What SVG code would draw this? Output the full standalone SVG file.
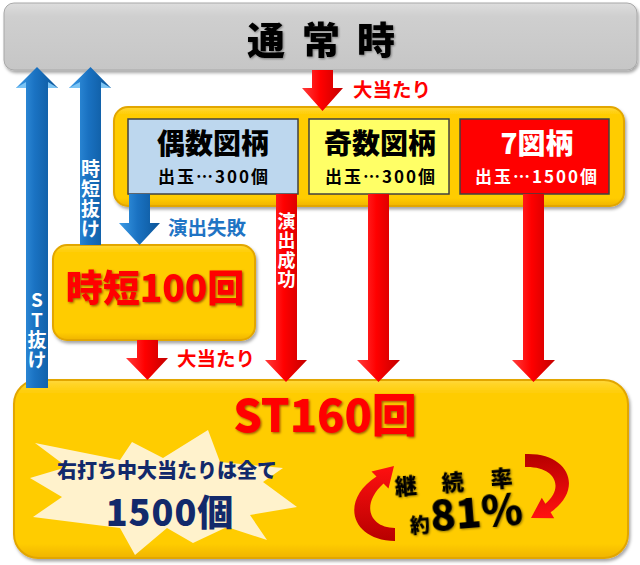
<svg xmlns="http://www.w3.org/2000/svg" width="640" height="565" viewBox="0 0 640 565">
<defs>
<style>
.t{font-family:"Noto Sans CJK JP","Noto Sans",sans-serif;font-weight:900}
.lbl{font-family:"Noto Sans CJK JP","Noto Sans",sans-serif;font-weight:700}
.vw{fill:#FFFFFF;writing-mode:vertical-rl;text-orientation:upright}
.red{fill:#FF0000}
.blu{fill:#1F74C4}
.navy{fill:#12296B}
.box{stroke:#404040;stroke-width:1.5}
.gold{fill:url(#gGold);stroke:#E2A600;stroke-width:2}
</style>
<linearGradient id="gRed" x1="0" y1="0" x2="1" y2="0">
<stop offset="0" stop-color="#FF3a3a"/><stop offset="0.45" stop-color="#FF0000"/><stop offset="1" stop-color="#C40000"/>
</linearGradient>
<linearGradient id="gBlue" x1="0" y1="0" x2="1" y2="0">
<stop offset="0" stop-color="#3C9BE6"/><stop offset="0.45" stop-color="#1A72C2"/><stop offset="1" stop-color="#0B5598"/>
</linearGradient>
<linearGradient id="gGray" x1="0" y1="0" x2="0" y2="1">
<stop offset="0" stop-color="#DDDDDD"/><stop offset="0.2" stop-color="#CFCFCF"/><stop offset="1" stop-color="#C6C6C6"/>
</linearGradient>
<linearGradient id="gGold" x1="0" y1="0" x2="0" y2="1">
<stop offset="0" stop-color="#FFD83A"/><stop offset="0.08" stop-color="#FFCC00"/><stop offset="0.92" stop-color="#FFCC00"/><stop offset="1" stop-color="#F0B400"/>
</linearGradient>
<linearGradient id="gArcL" gradientUnits="userSpaceOnUse" x1="395" y1="540" x2="394" y2="466">
<stop offset="0" stop-color="#B80000"/><stop offset="1" stop-color="#FF1010"/>
</linearGradient>
<linearGradient id="gArcR" gradientUnits="userSpaceOnUse" x1="525" y1="458" x2="531" y2="518">
<stop offset="0" stop-color="#B80000"/><stop offset="1" stop-color="#FF1010"/>
</linearGradient>
<filter id="sh" x="-10%" y="-10%" width="120%" height="130%">
<feDropShadow dx="1.5" dy="2.5" stdDeviation="1.8" flood-color="#000" flood-opacity="0.35"/>
</filter>
<filter id="tsh" x="-10%" y="-20%" width="120%" height="140%">
<feDropShadow dx="1.2" dy="1.2" stdDeviation="0.8" flood-color="#5a0000" flood-opacity="0.6"/>
</filter>
<filter id="ksh" x="-10%" y="-20%" width="120%" height="140%">
<feDropShadow dx="1" dy="1" stdDeviation="1" flood-color="#000" flood-opacity="0.4"/>
</filter>
</defs>

<g id="node-normal">
<rect x="4" y="3" width="633" height="67" rx="10" fill="url(#gGray)" stroke="#A8A8A8" stroke-width="1" filter="url(#sh)"/>
<text class="t" font-size="38" fill="#000" filter="url(#ksh)" text-anchor="middle"><tspan x="266" y="54">通</tspan><tspan x="321" y="54">常</tspan><tspan x="376" y="54">時</tspan></text>
</g>

<g id="node-symbols">
<rect x="114" y="107" width="510" height="99" rx="14" class="gold" filter="url(#sh)"/>
</g>

<g id="node-even">
<rect x="128" y="119" width="170" height="75" fill="#BDD7EE" class="box"/>
<text class="t" font-size="28" fill="#000" text-anchor="middle" x="213" y="154">偶数図柄</text>
<text class="lbl" font-size="17" fill="#000" text-anchor="middle" x="214" y="183" letter-spacing="2">出玉…300個</text>
</g>

<g id="node-odd">
<rect x="309" y="119" width="140" height="75" fill="#FFFF66" class="box"/>
<text class="t" font-size="28" fill="#000" text-anchor="middle" x="380" y="154">奇数図柄</text>
<text class="lbl" font-size="17" fill="#000" text-anchor="middle" x="381" y="183" letter-spacing="2">出玉…300個</text>
</g>

<g id="node-seven">
<rect x="460" y="119" width="149" height="75" fill="#FF0000" class="box"/>
<text class="t" font-size="28" fill="#FFF" text-anchor="middle" x="537" y="154">7図柄</text>
<text class="lbl" font-size="17" fill="#FFF" text-anchor="middle" x="537" y="183" letter-spacing="2">出玉…1500個</text>
</g>

<g id="node-jitan">
<rect x="53" y="245" width="202" height="95" rx="14" class="gold" filter="url(#sh)"/>
<text class="t red" font-size="37" text-anchor="middle" x="155" y="302" filter="url(#tsh)">時短100回</text>
</g>

<g id="node-st">
<rect x="14" y="380" width="614" height="178" rx="24" class="gold" filter="url(#sh)"/>
<text class="t red" font-size="45" text-anchor="middle" x="325" y="432" filter="url(#tsh)">ST160回</text>
<polygon fill="#FFF2CC" points="35,443 120,460 132,442 163,458 208,430 220,462 283,468 263,482 297,507 250,515 267,540 227,527 193,543 167,528 135,555 120,528 33,517 62,497 30,478 67,467"/>
<text class="t navy" font-size="20" text-anchor="middle" x="167" y="478">右打ち中大当たりは全て</text>
<text class="t navy" font-size="36" text-anchor="middle" x="170" y="526" letter-spacing="1">1500個</text>
<path fill="url(#gArcL)" d="M395,541 C350,540 340,500 376.5,476.5 L371.5,471.5 L394,466 L388.5,488.5 L383.5,483.5 C360,505 370,528 395,528 Z"/>
<path fill="url(#gArcR)" d="M525,454 C568,452 585,488 550.6,512.3 L554.2,518.3 L531,518 L541.8,497.7 L545.4,503.7 C565,487 555,466 525,467 Z"/>
<g transform="rotate(-4.5 455 500)" filter="url(#ksh)">
<text class="t" font-size="22" fill="#000" text-anchor="middle"><tspan x="407" y="490">継</tspan><tspan x="454" y="490">続</tspan><tspan x="503" y="490">率</tspan></text>
<text class="t" font-size="20" fill="#000" text-anchor="middle" x="418" y="530">約</text>
<text class="t" font-size="42" fill="#000" x="429" y="529">81%</text>
</g>
</g>

<g id="connectors">
<polygon fill="url(#gRed)" points="312,70 333,70 333,88 343,88 322.5,111 302,88 312,88"/>
<text class="lbl red" font-size="19.5" x="353" y="97">大当たり</text>

<polygon fill="url(#gBlue)" points="129,194 150,194 150,223 160,223 139.5,245 119,223 129,223"/>
<text class="lbl blu" font-size="19.5" x="168" y="235">演出失敗</text>

<polygon fill="url(#gRed)" points="276,194 297,194 297,360 307,360 286,382 265,360 276,360"/>
<text class="lbl vw" font-size="18" letter-spacing="1.5" x="286.5" y="212">演出成功</text>

<polygon fill="url(#gRed)" points="368,194 389,194 389,360 400,360 378.5,382 357,360 368,360"/>
<polygon fill="url(#gRed)" points="523,194 544,194 544,360 555,360 533.5,382 512,360 523,360"/>

<polygon fill="url(#gRed)" points="137,340 158,340 158,358 168,358 147.5,380 126,358 137,358"/>
<text class="lbl red" font-size="19.5" x="177" y="366">大当たり</text>

<polygon fill="url(#gBlue)" points="26,388 48,388 48,88 58,88 37,67 16,88 26,88"/>
<polygon fill="#7CC4F4" points="16,88 26,82 26,88"/>
<polygon fill="#7CC4F4" points="58,88 48,82 48,88"/>
<text class="lbl vw" font-size="19" letter-spacing="1" x="37" y="290">ST抜け</text>

<polygon fill="url(#gBlue)" points="80,245 101,245 101,88 111,88 90.5,67 69,88 80,88"/>
<polygon fill="#7CC4F4" points="69,88 80,82 80,88"/>
<polygon fill="#7CC4F4" points="111,88 101,82 101,88"/>
<text class="lbl vw" font-size="19" letter-spacing="1" x="90.5" y="159">時短抜け</text>
</g>
</svg>
